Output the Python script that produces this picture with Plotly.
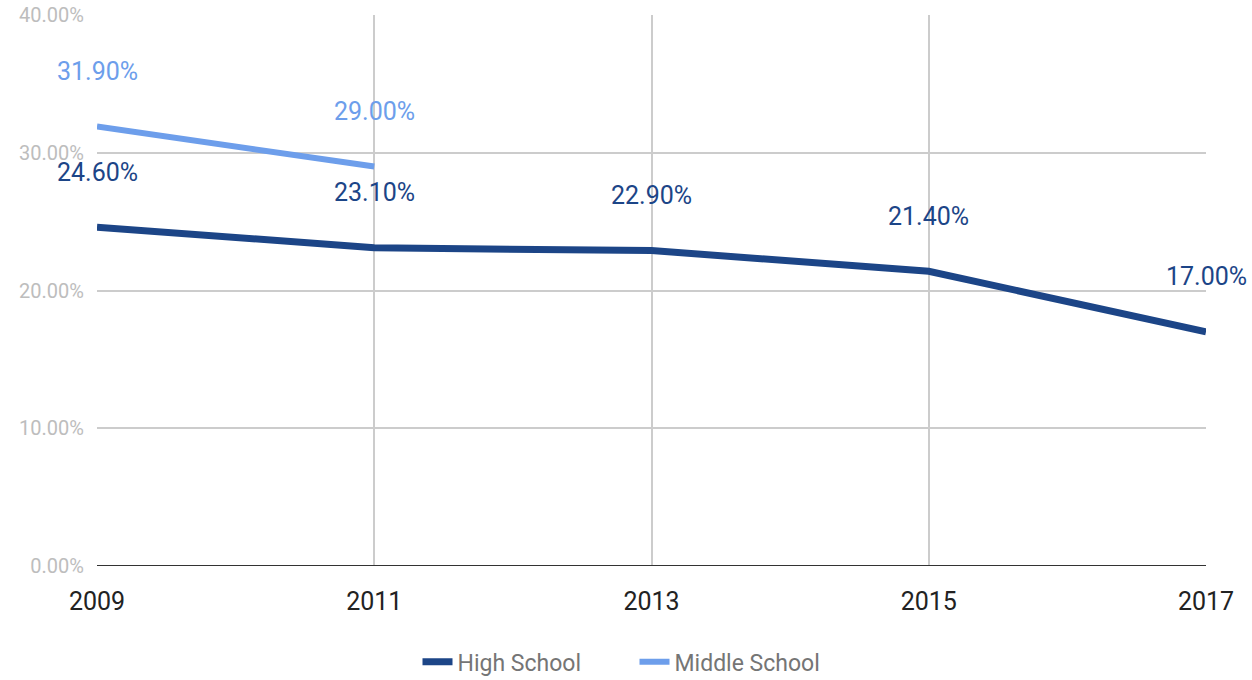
import plotly.graph_objects as go

years = [2009, 2011, 2013, 2015, 2017]
high_school = [24.6, 23.1, 22.9, 21.4, 17.0]
middle_school = [31.9, 29.0, None, None, None]
y_ticks = [0, 10, 20, 30, 40]

HS_COLOR = "#1c4587"
MS_COLOR = "#6d9eeb"
FONT = "Roboto"

fig = go.Figure()
fig.add_trace(go.Scatter(x=years, y=high_school, mode="lines", name="High School",
                         line=dict(color=HS_COLOR, width=7), connectgaps=False))
fig.add_trace(go.Scatter(x=years, y=middle_school, mode="lines", name="Middle School",
                         line=dict(color=MS_COLOR, width=6), connectgaps=False))

# value labels above each point
annotations = []
for series, color in ((high_school, HS_COLOR), (middle_school, MS_COLOR)):
    for x, v in zip(years, series):
        if v is None:
            continue
        annotations.append(dict(x=x, y=v, xref="x", yref="y", text=f"{v:.2f}%",
                                showarrow=False, yshift=55,
                                font=dict(family=FONT, size=25, color=color)))

fig.update_layout(
    width=1252, height=680,
    margin=dict(l=97, r=46, t=15, b=114, autoexpand=False),
    paper_bgcolor="white", plot_bgcolor="white",
    font=dict(family=FONT),
    annotations=annotations,
    showlegend=True,
    legend=dict(orientation="h", x=0.289, xanchor="left", y=-0.174, yanchor="middle",
                font=dict(family=FONT, size=23, color="#757575"),
                entrywidth=172, entrywidthmode="pixels",
                traceorder="normal"),
    xaxis=dict(range=[2009, 2017], tickvals=years, ticktext=[str(y) for y in years],
               showgrid=True, gridcolor="#cccccc", gridwidth=1.5,
               zeroline=False, showline=False, ticks="",
               ticklabelstandoff=18,
               tickfont=dict(family=FONT, size=25, color="#222222")),
    yaxis=dict(range=[0, 40], tickvals=y_ticks,
               ticktext=[f"{v:.2f}%" for v in y_ticks],
               showgrid=True, gridcolor="#cccccc", gridwidth=1.5,
               zeroline=False, showline=False, ticks="",
               ticklabelstandoff=12,
               tickfont=dict(family=FONT, size=20, color="#bdbdbd")),
    shapes=[dict(type="line", xref="paper", yref="y", x0=0, x1=1, y0=0, y1=0,
                 line=dict(color="#333333", width=2), layer="above")],
)

fig.write_html("out.html")
